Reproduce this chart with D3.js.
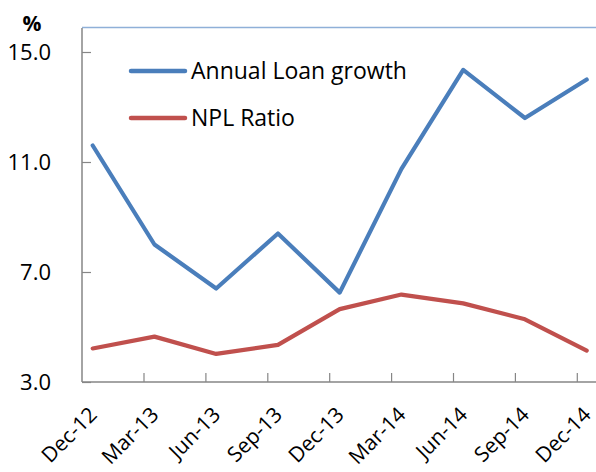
<!DOCTYPE html>
<html>
<head>
<meta charset="utf-8">
<script src="https://cdn.jsdelivr.net/npm/d3@7/dist/d3.min.js"></script>
<style>
  html, body { margin: 0; padding: 0; background: #fff; }
  svg { display: block; }
  text { font-family: "Open Sans", "DejaVu Sans", sans-serif; fill: #000; }
</style>
</head>
<body>
<svg id="chart" width="596" height="472"></svg>
<script>
// Quarterly categories
const quarters = ["Dec-12", "Mar-13", "Jun-13", "Sep-13", "Dec-13", "Mar-14", "Jun-14", "Sep-14", "Dec-14"];
// Annual loan growth, %
const loanGrowth = [11.6, 8.0, 6.4, 8.4, 6.25, 10.75, 14.35, 12.6, 14.0];
// Non-performing loan ratio, %
const nplRatio = [4.22, 4.65, 4.02, 4.35, 5.65, 6.18, 5.86, 5.28, 4.14];
// Value axis ticks
const yTicks = [3, 7, 11, 15];

const seriesList = [
  { name: "Annual Loan growth", values: loanGrowth, color: "#4a7ebb" },
  { name: "NPL Ratio", values: nplRatio, color: "#c0504d" }
];

const svg = d3.select("#chart");
const plotLeft = 82, plotRight = 596, plotTop = 28, plotBottom = 382;

const y = d3.scaleLinear().domain([3, 15]).range([plotBottom, 52]);
const x = d3.scalePoint().domain(quarters).range([92.7, 586.7]);
// category boundaries carrying the tick marks
const xb = d3.scaleLinear().domain([0, 1]).range([81.6, 143.5]);

// thin frame line along the top of the plot area
svg.append("line")
  .attr("x1", plotLeft).attr("x2", plotRight)
  .attr("y1", plotTop - 0.5).attr("y2", plotTop - 0.5)
  .attr("stroke", "#8fb0d8").attr("stroke-width", 1.5);

// y axis
const yAxis = svg.append("g")
  .attr("transform", `translate(${plotLeft},0)`)
  .call(d3.axisLeft(y).tickValues(yTicks).tickFormat(d3.format(".1f"))
    .tickSizeInner(-9).tickSizeOuter(0).tickPadding(31));
yAxis.select(".domain").remove();
yAxis.selectAll(".tick line").attr("stroke", "#868686").attr("stroke-width", 1.2);
yAxis.selectAll(".tick text").style("font-size", "22px").attr("fill", "#000");
svg.append("line")
  .attr("x1", plotLeft).attr("x2", plotLeft).attr("y1", plotTop).attr("y2", plotBottom)
  .attr("stroke", "#868686").attr("stroke-width", 1.5);

// x axis tick marks (between categories)
const xTickAxis = svg.append("g")
  .attr("transform", `translate(0,${plotBottom})`)
  .call(d3.axisBottom(xb).tickValues(d3.range(1, 9)).tickFormat("")
    .tickSizeInner(-9).tickSizeOuter(0));
xTickAxis.select(".domain").remove();
xTickAxis.selectAll(".tick line").attr("stroke", "#868686").attr("stroke-width", 1.2);
svg.append("line")
  .attr("x1", plotLeft).attr("x2", plotRight).attr("y1", plotBottom).attr("y2", plotBottom)
  .attr("stroke", "#868686").attr("stroke-width", 1.5);

// x axis category labels, rotated
const xLab = svg.append("g")
  .attr("transform", `translate(0,${plotBottom})`)
  .call(d3.axisBottom(x).tickSize(0).tickPadding(0));
xLab.select(".domain").remove();
xLab.selectAll(".tick text")
  .style("font-size", "21px")
  .attr("fill", "#000")
  .attr("text-anchor", "end")
  .attr("dy", null)
  .attr("transform", "translate(5,34) rotate(-45)");

// series lines
const line = d3.line().x((d, i) => x(quarters[i])).y(d => y(d));
svg.selectAll("path.series")
  .data(seriesList)
  .join("path")
  .attr("class", "series")
  .attr("fill", "none")
  .attr("stroke", d => d.color)
  .attr("stroke-width", 4.2)
  .attr("stroke-linejoin", "round")
  .attr("stroke-linecap", "round")
  .attr("d", d => line(d.values));

// legend
const legend = svg.append("g");
seriesList.forEach((s, i) => {
  const ly = 71 + i * 47;
  legend.append("line")
    .attr("x1", 131).attr("x2", 185).attr("y1", ly).attr("y2", ly)
    .attr("stroke", s.color).attr("stroke-width", 4.5).attr("stroke-linecap", "round");
  legend.append("text")
    .attr("x", 191).attr("y", ly + 8)
    .style("font-size", "23px")
    .text(s.name);
});

// unit label
svg.append("text")
  .attr("x", 32).attr("y", 31)
  .attr("text-anchor", "middle")
  .style("font-size", "21px").style("font-weight", "bold")
  .text("%");
</script>
</body>
</html>
